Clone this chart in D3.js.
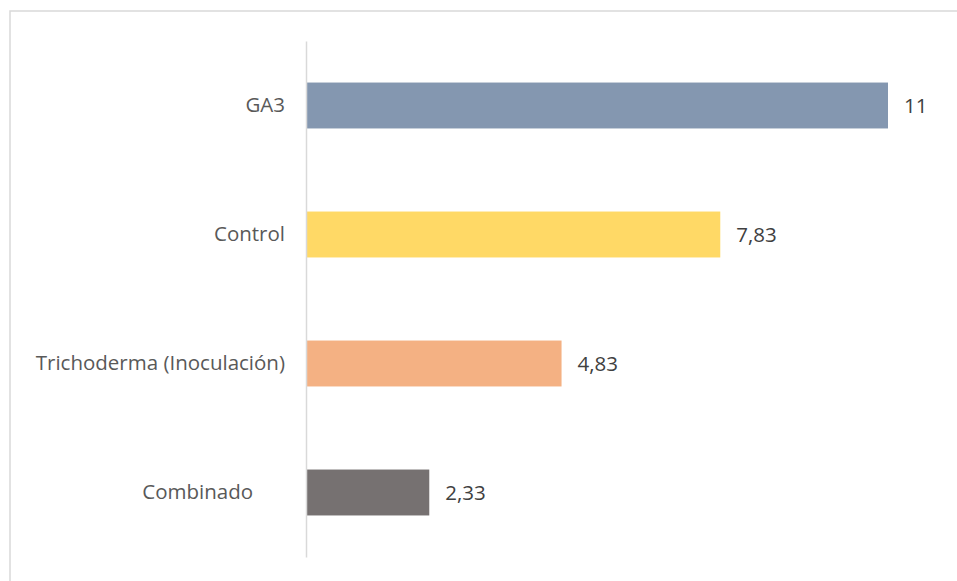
<!DOCTYPE html>
<html>
<head>
<meta charset="utf-8">
<script src="https://cdn.jsdelivr.net/npm/d3@7"></script>
<style>
  body { margin: 0; background: #fff; }
  text { font-family: "Open Sans", "Noto Sans", sans-serif; fill: #595959; }
</style>
</head>
<body>
<div id="chart"></div>
<script>
// datos del grafico
var categorias = ["GA3", "Control", "Trichoderma (Inoculación)", "Combinado"];
var valores = [11, 7.83, 4.83, 2.33];
var colores = ["#8497B0", "#FFD966", "#F4B183", "#767171"];

var width = 957, height = 581;

var svg = d3.select("#chart")
    .append("svg")
    .attr("width", width)
    .attr("height", height);

// borde del area del grafico (solo se ve arriba e izquierda)
svg.append("rect")
    .attr("x", 10)
    .attr("y", 11)
    .attr("width", 1000)
    .attr("height", 700)
    .attr("fill", "none")
    .attr("stroke", "#D9D9D9")
    .attr("stroke-width", 1.5);

var x = d3.scaleLinear()
    .domain([0, 11])
    .range([306, 888]);

var y = d3.scaleBand()
    .domain(categorias)
    .range([41, 557])
    .paddingInner(0.644)
    .paddingOuter(0.322);

var fmt = d3.formatLocale({ decimal: ",", thousands: ".", grouping: [3], currency: ["", ""] }).format(",~r");

svg.selectAll("rect.bar")
    .data(valores)
    .enter()
    .append("rect")
    .attr("class", "bar")
    .attr("x", x(0))
    .attr("y", function (d, i) { return y(categorias[i]); })
    .attr("width", function (d) { return x(d) - x(0); })
    .attr("height", y.bandwidth())
    .attr("fill", function (d, i) { return colores[i]; });

// eje vertical
var yAxis = d3.axisLeft(y).tickSize(0).tickPadding(21);
var g = svg.append("g")
    .attr("transform", "translate(" + x(0) + ",0)")
    .call(yAxis);
g.select(".domain").attr("stroke", "#D9D9D9").attr("stroke-width", 1.5);
g.selectAll("text")
    .style("font-size", "20.5px")
    .style("white-space", "pre")
    .style("font-family", "'Open Sans', sans-serif")
    .attr("fill", "#595959")
    .text(function (d) { return d === "Combinado" ? d + "      " : d; });

// etiquetas de valores
svg.selectAll(".label")
    .data(valores)
    .enter()
    .append("text")
    .attr("class", "label")
    .attr("x", function (d) { return x(d) + 16; })
    .attr("y", function (d, i) { return y(categorias[i]) + y.bandwidth() / 2; })
    .attr("dy", "0.35em")
    .style("font-size", "20.5px")
    .style("fill", "#404040")
    .text(function (d) { return fmt(d); });
</script>
</body>
</html>
